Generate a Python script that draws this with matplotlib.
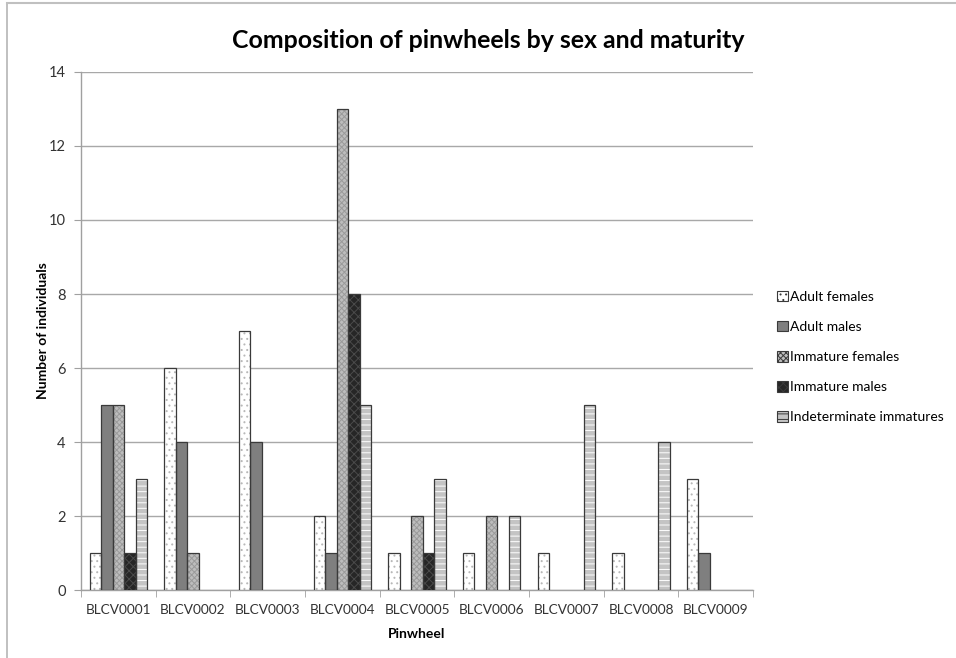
import numpy as np
import matplotlib
matplotlib.use("Agg")
import matplotlib.pyplot as plt
from matplotlib.patches import Patch
from matplotlib.lines import Line2D

plt.rcParams['font.family'] = ['Lato', 'DejaVu Sans']
plt.rcParams['hatch.linewidth'] = 0.7

pinwheels = ['BLCV0001', 'BLCV0002', 'BLCV0003', 'BLCV0004', 'BLCV0005',
             'BLCV0006', 'BLCV0007', 'BLCV0008', 'BLCV0009']
series_names = ['Adult females', 'Adult males', 'Immature females',
                'Immature males', 'Indeterminate immatures']
adult_females = [1, 6, 7, 2, 1, 1, 1, 1, 3]
adult_males = [5, 4, 4, 1, 0, 0, 0, 0, 1]
immature_females = [5, 1, 0, 13, 2, 2, 0, 0, 0]
immature_males = [1, 0, 0, 8, 1, 0, 0, 0, 0]
indeterminate = [3, 0, 0, 5, 3, 2, 5, 4, 0]
y_ticks = [0, 2, 4, 6, 8, 10, 12, 14]

values = [adult_females, adult_males, immature_females, immature_males, indeterminate]
# face colour, hatch, hatch colour
styles = [
    ('#ffffff', '...', '#b8b8b8'),
    ('#7f7f7f', None, None),
    ('#bdbdbd', 'xxxxxx', '#9a9a9a'),
    ('#262626', 'xxxx', '#4a4a4a'),
    ('#c4c4c4', '---', '#ffffff'),
]

fig = plt.figure(figsize=(9.56, 6.58), dpi=100)
ax = fig.add_axes([0.0847, 0.1033, 0.7030, 0.7873])

x = np.arange(len(pinwheels))
n = len(series_names)
bw = 1 / (n + 1.5)
for i, (vals, (fc, hatch, hc)) in enumerate(zip(values, styles)):
    pos = x - 0.5 + 0.75 * bw + i * bw
    v = np.array(vals, dtype=float)
    mask = v > 0
    ax.bar(pos[mask], v[mask], width=bw, align='edge', color=fc,
           edgecolor='none', linewidth=0, zorder=3)
    if hatch:
        ax.bar(pos[mask], v[mask], width=bw, align='edge', color='none',
               edgecolor=hc, hatch=hatch, linewidth=0, zorder=4)
    ax.bar(pos[mask], v[mask], width=bw, align='edge', color='none',
           edgecolor='#3a3a3a', linewidth=0.9, zorder=5)

ax.set_xlim(-0.5, len(pinwheels) - 0.5)
ax.set_ylim(0, 14)
ax.set_yticks(y_ticks)
ax.set_yticklabels([str(t) for t in y_ticks], fontsize=10.5, color='#333333')
ax.set_xticks(x)
ax.set_xticklabels(pinwheels, fontsize=9.8, color='#333333')
ax.set_xticks(np.arange(-0.5, len(pinwheels)), minor=True)
ax.tick_params(axis='x', which='major', length=0, pad=10)
ax.tick_params(axis='x', which='minor', length=5, color='#a0a0a0', direction='out')
ax.tick_params(axis='y', length=5, color='#a0a0a0', pad=6)
ax.grid(axis='y', color='#a8a8a8', linewidth=1.0, zorder=0)
ax.set_axisbelow(True)
for s in ['top', 'right']:
    ax.spines[s].set_visible(False)
for s in ['left', 'bottom']:
    ax.spines[s].set_color('#a0a0a0')
    ax.spines[s].set_linewidth(1.0)

ax.set_ylabel('Number of individuals', fontsize=10, fontweight='bold', labelpad=-0.5)
ax.set_xlabel('Pinwheel', fontsize=10, fontweight='bold', labelpad=9)
fig.text(0.511, 0.939, 'Composition of pinwheels by sex and maturity',
         ha='center', va='center', fontsize=17.9, fontweight='bold')

handles = []
for (fc, hatch, hc) in styles:
    handles.append(Patch(facecolor=fc, edgecolor='#3a3a3a', hatch=hatch, linewidth=0.8))
fig.legend(handles, series_names, loc='center left', bbox_to_anchor=(0.805, 0.4574),
           frameon=False, fontsize=10, handlelength=0.8, handleheight=0.8,
           handletextpad=0.2, labelspacing=1.3, borderpad=0)

# chart area frame
fig.add_artist(Line2D([0.007, 0.007], [0, 0.995], color='#b5b5b5', linewidth=1.2))
fig.add_artist(Line2D([0.007, 1.0], [0.995, 0.995], color='#c0c0c0', linewidth=1.5))

fig.savefig('out.png', dpi=100)
